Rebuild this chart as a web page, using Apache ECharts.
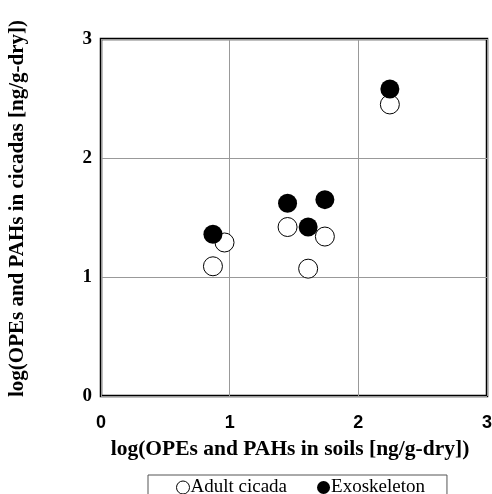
<!DOCTYPE html>
<html>
<head>
<meta charset="utf-8">
<script src="https://cdn.jsdelivr.net/npm/echarts@6/dist/echarts.min.js"></script>
<style>
  html, body { margin: 0; padding: 0; background: #fff; }
  #chart { width: 492px; height: 494px; }
</style>
</head>
<body>
<div id="chart"></div>
<script>
  // log values: [soils, cicadas]
  var adultCicada = [[2.245, 2.45], [1.45, 1.42], [1.74, 1.34], [1.61, 1.07], [0.96, 1.29], [0.87, 1.09]]
  var exoskeleton = [[2.245, 2.58], [1.45, 1.62], [1.74, 1.65], [1.61, 1.42], [0.87, 1.36]]
  var axisTicks = [0, 1, 2, 3]

  var chart = echarts.init(document.getElementById('chart'))

  var serif = '"Liberation Serif", "Times New Roman", serif'

  chart.setOption({
    animation: false,
    grid: {
      left: 101,
      right: 5,
      top: 39,
      bottom: 98,
      outerBoundsMode: 'none',
      show: true,
      borderColor: '#000',
      borderWidth: 2.5,
    },
    legend: {
      left: 148,
      top: 475,
      padding: [3, 22, 10, 28],
      itemGap: 30,
      itemWidth: 13,
      itemHeight: 13,
      borderColor: '#555',
      borderWidth: 1,
      textStyle: {
        fontFamily: serif,
        fontSize: 19,
        color: '#000',
        padding: [0, 0, 0, -4],
      },
      data: [
        { name: 'Adult cicada', icon: 'circle', itemStyle: { color: '#fff', borderColor: '#000', borderWidth: 1, opacity: 1 } },
        { name: 'Exoskeleton', icon: 'circle', itemStyle: { color: '#000', opacity: 1 } },
      ],
    },
    xAxis: {
      type: 'value',
      min: axisTicks[0],
      max: axisTicks[axisTicks.length - 1],
      interval: 1,
      name: 'log(OPEs and PAHs in soils [ng/g-dry])',
      nameLocation: 'middle',
      nameGap: 42,
      nameTextStyle: {
        fontFamily: serif,
        fontWeight: 'bold',
        fontSize: 21.5,
        color: '#000',
        padding: [0, 8, 0, 0],
      },
      axisLine: { show: false },
      axisTick: { show: false },
      axisLabel: {
        margin: 18,
        fontFamily: '"Liberation Sans", Arial, sans-serif',
        fontWeight: 'bold',
        fontSize: 18,
        color: '#000',
      },
      splitLine: { lineStyle: { color: '#999', width: 1 } },
    },
    yAxis: {
      type: 'value',
      min: axisTicks[0],
      max: axisTicks[axisTicks.length - 1],
      interval: 1,
      name: 'log(OPEs and PAHs in cicadas [ng/g-dry])',
      nameLocation: 'middle',
      nameGap: 73,
      nameTextStyle: {
        fontFamily: serif,
        fontWeight: 'bold',
        fontSize: 21,
        color: '#000',
        padding: [0, 0, 0, 18],
      },
      axisLine: { show: false },
      axisTick: { show: false },
      axisLabel: {
        margin: 9,
        fontFamily: serif,
        fontWeight: 'bold',
        fontSize: 19,
        color: '#000',
      },
      splitLine: { lineStyle: { color: '#999', width: 1 } },
    },
    series: [
      {
        name: 'Adult cicada',
        type: 'scatter',
        symbolSize: 19,
        itemStyle: { color: '#fff', borderColor: '#000', borderWidth: 1, opacity: 1 },
        data: adultCicada,
        z: 2,
      },
      {
        name: 'Exoskeleton',
        type: 'scatter',
        symbolSize: 19,
        itemStyle: { color: '#000', opacity: 1 },
        data: exoskeleton,
        z: 3,
      },
    ],
  })
</script>
</body>
</html>
